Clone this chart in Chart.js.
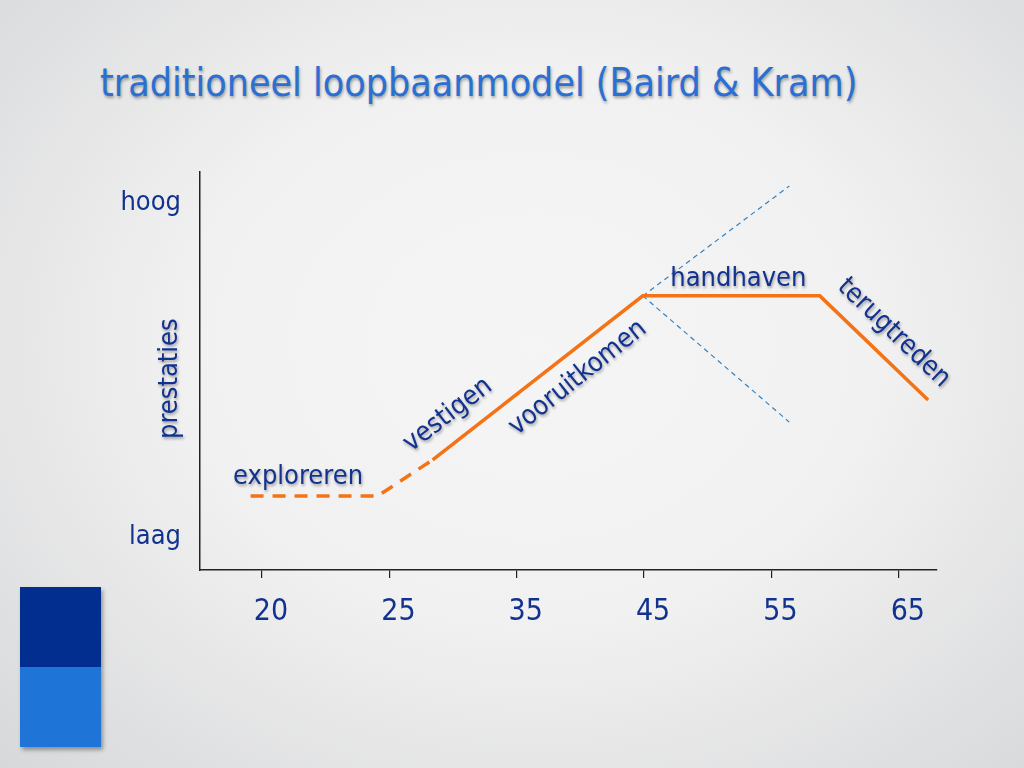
<!DOCTYPE html>
<html>
<head>
<meta charset="utf-8">
<script src="https://cdn.jsdelivr.net/npm/chart.js@4.4.1/dist/chart.umd.min.js"></script>
<style>
  html, body { margin:0; padding:0; width:1024px; height:768px; overflow:hidden; }
  body { background: radial-gradient(ellipse 75% 80% at 52% 45%, #f5f5f5 0%, #f1f1f1 45%, #d6d7d9 100%); position:relative; font-family: "DejaVu Sans Condensed", "DejaVu Sans", sans-serif; }
  #title { position:absolute; left:100px; top:63px; margin:0; font-size:39px; line-height:39px; font-weight:normal; color:#2a6fd4; white-space:nowrap; text-shadow: 1px 2px 3px rgba(0,0,0,0.35); }
  #wrap { position:absolute; left:0; top:0; width:1024px; height:768px; }
  .blk { position:absolute; left:20px; width:81px; box-shadow: 2px 3px 4px rgba(0,0,0,0.35); }
</style>
</head>
<body>
<h1 id="title">traditioneel loopbaanmodel (Baird &amp; Kram)</h1>
<div class="blk" style="top:587px;height:80px;background:#022f8f;"></div>
<div class="blk" style="top:667px;height:80px;background:#1f74d8;"></div>
<div id="wrap"><canvas id="c" width="1024" height="768"></canvas></div>
<script>
// ---- data ----
const tickLabels = ['20', '25', '35', '45', '55', '65'];
const yTickLabels = { 0: 'laag', 10: 'hoog' };
const yAxisTitle = 'prestaties';
// exploration phase (dashed)
const exploreX = [-0.09, 0.91, 1.34];
const exploreY = [1.23, 1.23, 2.31];
// main career curve (solid)
const careerX = [1.34, 2.99, 4.38, 5.23];
const careerY = [2.31, 7.22, 7.22, 4.10];
// alternative paths (thin dotted)
const upX = [2.99, 4.14];
const upY = [7.22, 10.51];
const downX = [2.99, 4.14];
const downY = [7.22, 3.44];
// phase labels
const phaseLabels = ['exploreren', 'vestigen', 'vooruitkomen', 'handhaven', 'terugtreden'];
const phaseX = [0.283, 1.46, 2.48, 3.74, 4.96];
const phaseY = [1.80, 3.65, 4.76, 7.72, 6.11];
const phaseAngle = [0, -37.6, -38.6, 0, 43.7];

const pts = (xs, ys) => xs.map((x, i) => ({ x: x, y: ys[i] }));
const FONT = '"DejaVu Sans Condensed", "DejaVu Sans", sans-serif';
const TXT = '#123290';

const labelPlugin = {
  id: 'phaseLabels',
  afterDatasetsDraw(chart) {
    const ctx = chart.ctx;
    const xs = chart.scales.x, ys = chart.scales.y;
    ctx.save();
    ctx.shadowColor = 'rgba(0,0,0,0.35)';
    ctx.shadowOffsetX = 1; ctx.shadowOffsetY = 2; ctx.shadowBlur = 3;
    ctx.fillStyle = TXT;
    ctx.font = '27px ' + FONT;
    ctx.textAlign = 'center'; ctx.textBaseline = 'middle';
    phaseLabels.forEach((t, i) => {
      ctx.save();
      ctx.translate(xs.getPixelForValue(phaseX[i]), ys.getPixelForValue(phaseY[i]));
      ctx.rotate(phaseAngle[i] * Math.PI / 180);
      ctx.fillText(t, 0, 0);
      ctx.restore();
    });
    // y axis title
    ctx.save();
    ctx.translate(170, ys.getPixelForValue(4.74));
    ctx.rotate(-Math.PI / 2);
    ctx.fillText(yAxisTitle, 0, 0);
    ctx.restore();
    ctx.restore();
  }
};

new Chart(document.getElementById('c'), {
  type: 'line',
  data: {
    datasets: [
      { data: pts(exploreX, exploreY), borderColor: '#f47316', borderWidth: 3.5, borderDash: [13, 9], pointRadius: 0, tension: 0, fill: false },
      { data: pts(careerX, careerY), borderColor: '#f47316', borderWidth: 3.5, pointRadius: 0, tension: 0, fill: false },
      { data: pts(upX, upY), borderColor: '#2f82c4', borderWidth: 1.2, borderDash: [5, 4], pointRadius: 0, fill: false },
      { data: pts(downX, downY), borderColor: '#2f82c4', borderWidth: 1.2, borderDash: [5, 4], pointRadius: 0, fill: false }
    ]
  },
  options: {
    responsive: false,
    animation: false,
    events: [],
    layout: { padding: { left: 0, top: 172, right: 87, bottom: 0 } },
    plugins: { legend: { display: false }, tooltip: { enabled: false }, title: { display: false } },
    scales: {
      x: {
        type: 'linear',
        min: -0.487, max: 5.30,
        afterFit(s) { s.height = 198; },
        afterBuildTicks(s) { s.ticks = tickLabels.map((l, i) => ({ value: i })); },
        ticks: {
          callback: (v) => tickLabels[v] !== undefined ? tickLabels[v] : '',
          color: TXT, font: { family: FONT, size: 30 }, padding: 16, maxRotation: 0, autoSkip: false,
          labelOffset: 9
        },
        grid: { drawOnChartArea: false, drawTicks: true, tickLength: 8, color: '#222', lineWidth: 1.2 },
        border: { display: true, color: '#222', width: 1.5 }
      },
      y: {
        type: 'linear',
        min: -0.99, max: 10.93,
        afterFit(s) { s.width = 200; },
        afterBuildTicks(s) { s.ticks = [{ value: 0 }, { value: 10 }]; },
        ticks: {
          callback: (v) => yTickLabels[v] || '',
          color: TXT, font: { family: FONT, size: 27 }, padding: 19
        },
        grid: { display: false, drawTicks: false },
        border: { display: true, color: '#222', width: 1.5 }
      }
    }
  },
  plugins: [labelPlugin]
});
</script>
</body>
</html>
